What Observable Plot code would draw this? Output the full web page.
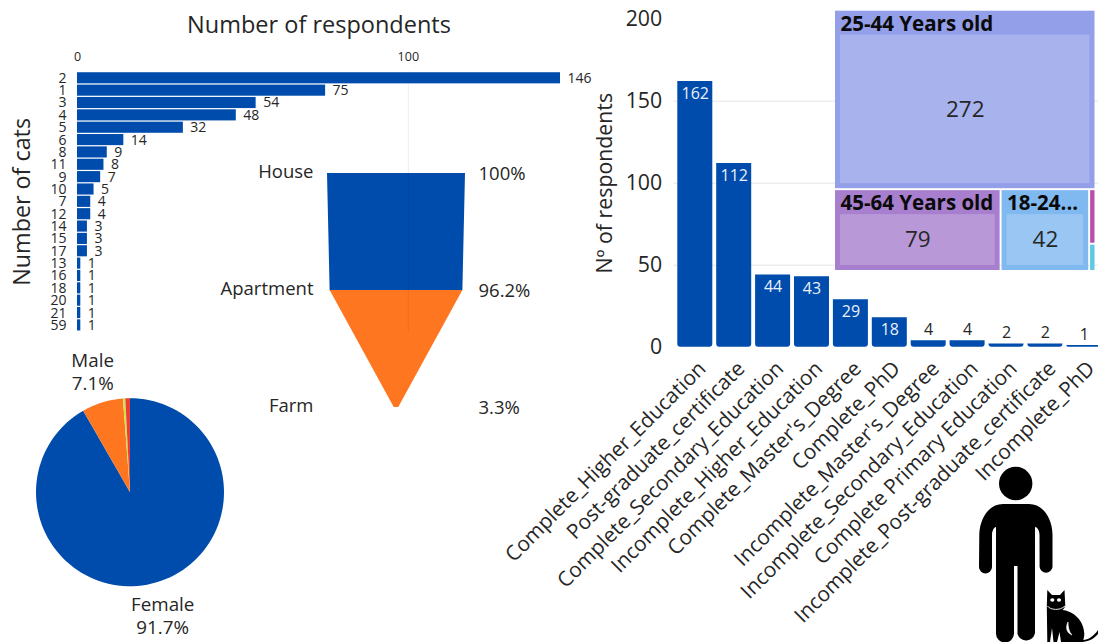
<!DOCTYPE html>
<html>
<head>
<meta charset="utf-8">
<script src="https://cdn.jsdelivr.net/npm/d3@7"></script>
<script src="https://cdn.jsdelivr.net/npm/@observablehq/plot@0.6"></script>
<style>
  html, body { margin: 0; background: #fff; }
  #board { position: relative; width: 1098px; height: 642px; overflow: hidden; background: #fff; }
  #board > svg { position: absolute; left: 0; top: 0; background: transparent; }
</style>
</head>
<body>
<div id="board"></div>
<script>
// Survey results: cats per household, housing, gender, education and age.
const catCounts = ["2","1","3","4","5","6","8","11","9","10","7","12","14","15","17","13","16","18","20","21","59"];
const catRespondents = [146,75,54,48,32,14,9,8,7,5,4,4,3,3,3,1,1,1,1,1,1];

const housing = ["House","Apartment","Farm"];
const housingPct = [100,96.2,3.3];
const housingLabels = ["100%","96.2%","3.3%"];

const genders = ["Female","Male","Other","Undisclosed"];
const genderPct = [91.7,7.1,0.4,0.8];
const genderLabels = ["Female\n91.7%","Male\n7.1%","",""];

const education = ["Complete_Higher_Education","Post-graduate_certificate","Complete_Secondary_Education","Incomplete_Higher_Education","Complete_Master's_Degree","Complete_PhD","Incomplete_Master's_Degree","Incomplete_Secondary_Education","Complete Primary Education","Incomplete_Post-graduate_certificate","Incomplete_PhD"];
const educationCounts = [162,112,44,43,29,18,4,4,2,2,1];

const ageGroups = ["25-44 Years old","45-64 Years old","18-24 Years old","65+ Years old","Under 18"];
const ageCounts = [272,79,42,2,1];
const ageHeaders = ["25-44 Years old","45-64 Years old","18-24...","",""];

const W = 1098, H = 642;
const BLUE = "#004CAD", ORANGE = "#FF7621", INK = "#262626";
const base = {width: W, height: H, style: {fontFamily: "'Open Sans'", color: INK, background: "transparent", overflow: "hidden"}};
const board = document.getElementById("board");

// Housing funnel, drawn first so the bar chart's grid line crosses it.
const funnelRows = housing.map((stage, i) => ({stage, pct: housingPct[i], label: housingLabels[i]}));
const funnelSegments = [0, 1].flatMap(i => [
  {segment: housing[i], stage: housing[i], pct: housingPct[i]},
  {segment: housing[i], stage: housing[i + 1], pct: housingPct[i + 1]}
]);
board.append(Plot.plot({
  ...base,
  marginLeft: 327, marginRight: W - 465, marginTop: 173, marginBottom: H - 407,
  x: {domain: [-50, 50], axis: null},
  y: {type: "point", domain: housing, padding: 0, axis: null},
  color: {domain: housing, range: [BLUE, ORANGE, ORANGE]},
  marks: [
    Plot.areaX(funnelSegments, {x1: d => -d.pct / 2, x2: d => d.pct / 2, y: "stage", fill: "segment", z: "segment"}),
    Plot.text(funnelRows, {x: () => -50, y: "stage", text: "stage", dx: -14, dy: -1.5, textAnchor: "end", fontSize: 18.5, fill: INK}),
    Plot.text(funnelRows, {x: () => 50, y: "stage", text: "label", dx: 13, dy: 0.5, textAnchor: "start", fontSize: 18.5, fill: INK})
  ]
}));

// Respondents by number of cats.
const catRows = catCounts.map((c, i) => ({cats: c, n: catRespondents[i]}));
board.append(Plot.plot({
  ...base,
  marginLeft: 77, marginRight: W - 560, marginTop: 71, marginBottom: H - 331.7,
  x: {domain: [0, 146]},
  y: {domain: catCounts, padding: 0.1, round: false},
  marks: [
    Plot.gridX({ticks: [100], stroke: "#000", strokeOpacity: 0.07}),
    Plot.barX(catRows, {x: "n", y: "cats", fill: BLUE}),
    Plot.text(catRows, {x: "n", y: "cats", text: d => String(d.n), dx: 7, textAnchor: "start", fontSize: 14, fill: INK}),
    Plot.axisX({anchor: "top", ticks: [0, 100], tickSize: 0, tickPadding: 11, fontSize: 12.5, label: null}),
    Plot.axisY({tickSize: 0, tickPadding: 11, fontSize: 14, label: null}),
    Plot.text(["Number of respondents"], {frameAnchor: "top", dy: -46, lineAnchor: "middle", fontSize: 23.5, fill: INK}),
    Plot.text(["Number of cats"], {frameAnchor: "left", dx: -55, rotate: -90, textAnchor: "middle", lineAnchor: "middle", fontSize: 23.3, fill: INK})
  ]
}));

// Gender pie: a polar projection turns meridians into spokes and the equator into the rim.
let running = 0;
const genderRows = genders.map((name, i) => {
  const start = running * 3.6;
  running += genderPct[i];
  const end = running * 3.6;
  const steps = Math.max(1, Math.ceil((end - start) / 3));
  const rim = d3.range(steps + 1).map(k => [-(start + (end - start) * k / steps), 0]);
  return {
    type: "Feature",
    properties: {name, label: genderLabels[i], mid: (start + end) / 2},
    geometry: {type: "Polygon", coordinates: [[[0, 90], ...rim, [0, 90]]]}
  };
});
board.append(Plot.plot({
  ...base,
  projection: d3.geoAzimuthalEquidistant().rotate([180, -90]).translate([129.5, 491.7]).scale(94 / (Math.PI / 2)),
  color: {domain: genders, range: [BLUE, ORANGE, "#C6E84A", "#EF3B36"]},
  marks: [
    Plot.geo(genderRows, {fill: d => d.properties.name}),
    Plot.text(genderRows.filter(d => d.properties.label), {
      x: d => -d.properties.mid,
      y: () => -31.5,
      text: d => d.properties.label,
      fontSize: 18.8, lineHeight: 1.22, fill: INK
    })
  ]
}));

// Respondents by education level.
const eduRows = education.map((e, i) => ({level: e, n: educationCounts[i]}));
board.append(Plot.plot({
  ...base,
  marginLeft: 673.4, marginRight: 0, marginTop: 18.7, marginBottom: H - 346.7,
  x: {domain: education, range: [673.4, 1105.2], padding: 0.1, round: false},
  y: {domain: [0, 200]},
  marks: [
    Plot.gridY({ticks: [50, 100, 150], stroke: "#e4e4e4", strokeOpacity: 1}),
    Plot.barY(eduRows, {x: "level", y: "n", fill: BLUE, ry2: 3, rx: 2}),
    Plot.text(eduRows.filter(d => d.n >= 18), {x: "level", y: "n", text: d => String(d.n), dy: 12, fontSize: 16, fill: "#e9f0fa"}),
    Plot.text(eduRows.filter(d => d.n < 18), {x: "level", y: "n", text: d => String(d.n), dy: -11, fontSize: 16, fill: INK}),
    Plot.axisY({ticks: [0, 50, 100, 150, 200], tickSize: 0, tickPadding: 11.7, fontSize: 21.3, label: "Nº of respondents", labelAnchor: "center", labelArrow: "none", labelOffset: 77}),
    Plot.axisX({tickRotate: -45, tickSize: 0, tickPadding: 18, dx: 7, fontSize: 20.8, label: null})
  ]
}));

// Age treemap, laid out by d3 in a box a hair taller than wide so the largest tile spans the top.
const boxHeight = 1.0005;
const ageRoot = d3.hierarchy({children: ageGroups.map((g, i) => ({group: g, n: ageCounts[i], header: ageHeaders[i]}))})
  .sum(d => d.n || 0);
d3.treemap().tile(d3.treemapSquarify).size([1, boxHeight]).paddingInner(0.0075)(ageRoot);
const tiles = ageRoot.leaves().map(l => ({...l.data, x0: l.x0, x1: l.x1, y0: l.y0, y1: l.y1}));
const labelled = tiles.filter(t => t.header);
board.append(Plot.plot({
  ...base,
  marginLeft: 835, marginRight: W - 1094.5, marginTop: 10.7, marginBottom: H - 270,
  x: {domain: [0, 1], axis: null},
  y: {domain: [0, boxHeight], range: [10.7, 270], axis: null},
  color: {domain: ageGroups, range: ["#939FE8", "#A77FCE", "#80B8F0", "#B552AC", "#5BC8E4"]},
  marks: [
    Plot.rect(tiles, {x1: "x0", x2: "x1", y1: "y0", y2: "y1", fill: "group"}),
    Plot.rect(labelled, {x1: "x0", x2: "x1", y1: "y0", y2: "y1", fill: "#fff", fillOpacity: 0.2, insetLeft: 5, insetRight: 5, insetTop: 24, insetBottom: 5}),
    Plot.text(labelled, {x: "x0", y: "y0", text: "header", dx: 5, dy: 13, textAnchor: "start", fontSize: 20.5, fontWeight: 700, fill: "#0a0a0a"}),
    Plot.text(labelled, {x: d => (d.x0 + d.x1) / 2, y: d => (d.y0 + d.y1) / 2, text: d => String(d.n), dy: 9.5, fontSize: 22.5, fill: INK})
  ]
}));

// Person and cat pictogram in the lower right corner.
const icon = document.createElementNS("http://www.w3.org/2000/svg", "svg");
icon.setAttribute("width", W);
icon.setAttribute("height", H);
icon.innerHTML = `
  <circle cx="1015.7" cy="483.5" r="16.7" fill="#000"/>
  <path fill="#000" d="M1003 504 L1029 504 C1043 504 1052 518 1052.5 534 L1052.5 567 A6.5 6.5 0 0 1 1039.6 567 L1039.5 535 C1039.5 530 1037 527 1035 527 L1035 633 A9 9 0 0 1 1017.5 634 L1017.5 566 L1014 566 L1014 634 A9 9 0 0 1 996 633 L996 527 C994 527 992 531 992 535 L992 567 A6.5 6.5 0 0 1 979 567 L979.3 534 C980 518 989 504 1003 504 Z"/>
  <path fill="#000" d="M1047.3 590 L1052 595 L1060 595 L1064.5 590 L1065.3 606 C1064.5 608 1063.5 609 1062.5 610 C1073 611 1084 620 1084.3 634 C1084.3 636 1084 638 1083.3 640 C1088 640 1094 636 1098 630 L1098 634 C1093 640 1087 642 1080 642 L1061 642 L1059.5 632 L1057 642 L1053.5 642 L1052 628 L1050 642 L1047.3 642 L1046.8 606 Z"/>
  <ellipse cx="1052.3" cy="600" rx="2.1" ry="1.8" fill="#fff"/>
  <ellipse cx="1059" cy="600" rx="2.1" ry="1.8" fill="#fff"/>
  <path d="M1047.5 606 C1050 610 1060 611 1065 606" fill="none" stroke="#fff" stroke-width="0.9"/>
  <path d="M1068 622 C1065 628 1067 633 1072 635 C1069 632 1068 627 1068 622 Z" fill="#fff" stroke="#fff" stroke-width="0.6"/>`;
board.append(icon);
</script>
</body>
</html>
